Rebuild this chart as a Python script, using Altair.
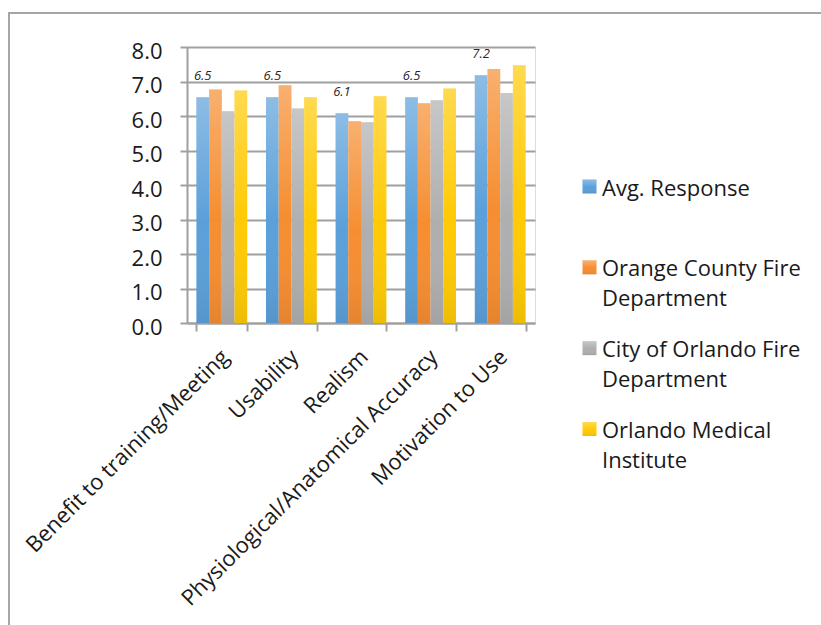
import altair as alt
import pandas as pd

FONT = "Open Sans"

categories = ["Benefit to training/Meeting", "Usability", "Realism",
              "Physiological/Anatomical Accuracy", "Motivation to Use"]
series = ["Avg. Response", "Orange County Fire Department",
          "City of Orlando Fire Department", "Orlando Medical Institute"]
avg_response = [6.54, 6.54, 6.08, 6.54, 7.18]
orange_county = [6.77, 6.89, 5.85, 6.37, 7.36]
city_orlando = [6.14, 6.22, 5.82, 6.46, 6.67]
orlando_medical = [6.74, 6.54, 6.57, 6.80, 7.47]
legend_labels = ["Avg. Response", "Orange County Fire\nDepartment",
                 "City of Orlando Fire\nDepartment", "Orlando Medical\nInstitute"]
colors = ["#5BA0DA", "#F68E31", "#AFAFAF", "#FFCA05"]

rows = []
for s, vals in zip(series, [avg_response, orange_county, city_orlando, orlando_medical]):
    for c, v in zip(categories, vals):
        rows.append({"category": c, "series": s, "value": v})
df = pd.DataFrame(rows)
leg_df = pd.DataFrame({"series": series, "label": legend_labels})

GRAY = "#A0A0A0"
TEXT = "#1a1a1a"
FS = 22

gradient = alt.LinearGradient(
    gradient="linear", x1=0, y1=0, x2=0, y2=1,
    stops=[alt.GradientStop(offset=0, color="rgba(255,255,255,0.30)"),
           alt.GradientStop(offset=0.55, color="rgba(255,255,255,0)"),
           alt.GradientStop(offset=1, color="rgba(0,0,0,0.07)")])

x_enc = alt.X("category:N", sort=categories,
              scale=alt.Scale(domain=categories, paddingInner=0.27, paddingOuter=0.135),
              axis=alt.Axis(title=None, labelAngle=-45, labelAlign="right",
                            labelBaseline="middle", labelOffset=3, labelPadding=22,
                            labelLimit=0, labelOverlap=False,
                            tickBand="extent", tickSize=8, tickColor=GRAY, tickWidth=2,
                            domainColor=GRAY, domainWidth=2, labelFontSize=FS,
                            labelColor=TEXT, labelFont=FONT, grid=False))
xoff = alt.XOffset("series:N", sort=series,
                   scale=alt.Scale(domain=series, paddingInner=0, paddingOuter=0))
y_enc = alt.Y("value:Q", scale=alt.Scale(domain=[0, 8], nice=False),
              axis=alt.Axis(title=None, values=[0, 1, 2, 3, 4, 5, 6, 7, 8], format=".1f",
                            grid=True, gridColor=GRAY, gridWidth=2,
                            domainColor=GRAY, domainWidth=2, tickColor=GRAY, tickWidth=2,
                            tickSize=7, labelPadding=18, labelOffset=4, labelFontSize=FS,
                            labelColor=TEXT, labelFont=FONT))
color_enc = alt.Color("series:N", sort=series,
                      scale=alt.Scale(domain=series, range=colors), legend=None)

base = alt.Chart(df)
bars = base.mark_bar().encode(x=x_enc, xOffset=xoff, y=y_enc, color=color_enc)
bars_shade = base.mark_bar(color=gradient).encode(x=x_enc, xOffset=xoff, y=y_enc)
labels = base.transform_filter(alt.datum.series == series[0]).mark_text(
    fontStyle="italic", fontSize=13, baseline="alphabetic", dy=-17,
    font=FONT, color="#262626"
).encode(x=x_enc, xOffset=xoff, y=y_enc, text=alt.Text("value:Q", format=".1f"))

main = alt.layer(bars, bars_shade, labels)

ly = alt.Y("series:N", sort=series,
           scale=alt.Scale(type="point", domain=series, range=[139.5, 382], padding=0),
           axis=None)
lbase = alt.Chart(leg_df)
lsq = lbase.mark_square(size=196, filled=True, opacity=1).encode(
    x=alt.value(402.5), y=ly, color=color_enc)
lsq_shade = lbase.mark_square(size=196, filled=True, opacity=1, fill=gradient).encode(
    x=alt.value(402.5), y=ly)
ltext = lbase.mark_text(align="left", baseline="top", dy=-8, lineBreak="\n",
                        lineHeight=30, fontSize=FS, font=FONT, color=TEXT).encode(
    x=alt.value(415), y=ly, text="label:N")
legend = alt.layer(lsq, lsq_shade, ltext)

frame = alt.Chart(pd.DataFrame({"a": [0]})).mark_rect(
    filled=False, stroke="#A6A6A6", strokeWidth=2).encode(
    x=alt.value(-178), x2=alt.value(700), y=alt.value(-34), y2=alt.value(700))

chart = alt.layer(frame, main, legend).resolve_scale(y="independent").properties(
    width=348, height=276, autosize="none",
    padding={"left": 187, "top": 47, "right": 286, "bottom": 302},
).configure_view(stroke=None).configure(background="white")

chart.save("out.html", embed_options={"renderer": "svg", "actions": False})
